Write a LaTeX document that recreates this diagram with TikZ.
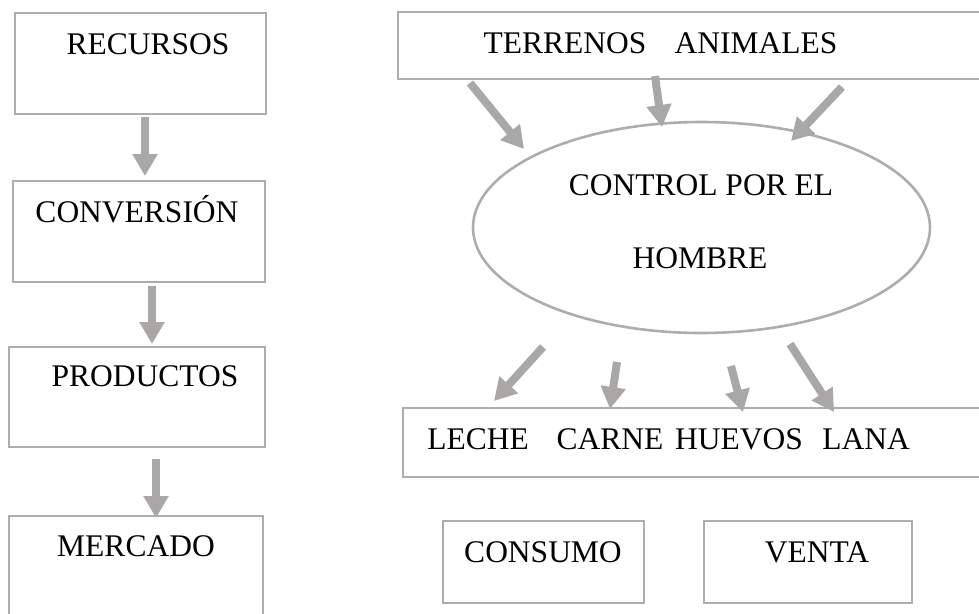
\documentclass[tikz,border=0pt]{standalone}
\usepackage{fontspec}
\setmainfont{Liberation Serif}
\usetikzlibrary{arrows.meta,shapes.geometric}
\definecolor{boxgray}{HTML}{ADADAD}
\definecolor{arrgray}{HTML}{AAA7A7}
\tikzset{
  boxnode/.style={draw=boxgray, line width=2.6pt, rectangle, inner sep=0pt, fill=none},
  lbl/.style={anchor=base, inner sep=0pt, font=\fontsize{31.5}{38}\selectfont, text=black},
  flow/.style={draw=arrgray, line width=8pt, -{Triangle[width=24pt,length=22pt]}}
}
\begin{document}
\begin{tikzpicture}[x=1pt,y=-1pt]
\useasboundingbox (0,0) rectangle (979,613);
\clip (0,0) rectangle (979,613);
\fill[white] (0,0) rectangle (979,613);
% left column boxes
\node[boxnode, minimum width=251pt, minimum height=101pt] (rec) at (140.5,63.5) {};
\node[boxnode, minimum width=252pt, minimum height=101pt] (conv) at (139,231.5) {};
\node[boxnode, minimum width=256pt, minimum height=100pt] (prod) at (137,397) {};
\node[boxnode, minimum width=254pt, minimum height=110pt] (merc) at (136,571) {};
\node[lbl] (trec) at (148,54) {RECURSOS};
\node[lbl] (tconv) at (137,222) {CONVERSIÓN};
\node[lbl] (tprod) at (145,386) {PRODUCTOS};
\node[lbl] (tmerc) at (136,556) {MERCADO};
% right side
\node[boxnode, minimum width=600pt, minimum height=67pt] (top) at (698,45.5) {};
\node[lbl] (tterr) at (565,53) {TERRENOS};
\node[lbl] (tanim) at (756,53) {ANIMALES};
\node[draw=boxgray, line width=2.6pt, ellipse, minimum width=457pt, minimum height=211pt, inner sep=0pt] (ctrl) at (701.5,227.5) {};
\node[lbl] (tctrl1) at (701,195) {CONTROL POR EL};
\node[lbl] (tctrl2) at (700,268) {HOMBRE};
\node[boxnode, minimum width=595pt, minimum height=69pt] (out) at (700.5,442.5) {};
\node[lbl] (tleche) at (478,449) {LECHE};
\node[lbl] (tcarne) at (610,449) {CARNE};
\node[lbl] (thuevos) at (739,449) {HUEVOS};
\node[lbl] (tlana) at (866,449) {LANA};
\node[boxnode, minimum width=201pt, minimum height=82pt] (cons) at (543.5,562) {};
\node[boxnode, minimum width=208pt, minimum height=82pt] (vent) at (808,562) {};
\node[lbl] (tcons) at (543,562) {CONSUMO};
\node[lbl] (tvent) at (817,562) {VENTA};
% arrow end coordinates
\coordinate (l1s) at (145,117); \coordinate (l1e) at (145,176);
\coordinate (l2s) at (152,286); \coordinate (l2e) at (152,344);
\coordinate (l3s) at (156,459); \coordinate (l3e) at (156,518);
\coordinate (tas) at (470,83);  \coordinate (tae) at (524,149);
\coordinate (tbs) at (655,76);  \coordinate (tbe) at (662,127);
\coordinate (tcs) at (842,87);  \coordinate (tce) at (791,141);
\coordinate (bds) at (543,347); \coordinate (bde) at (494,401);
\coordinate (bes) at (617,362); \coordinate (bee) at (610,409);
\coordinate (bfs) at (731,366); \coordinate (bfe) at (743,412);
\coordinate (bgs) at (790,344); \coordinate (bge) at (834,412);
\draw[flow] (l1s) -- (l1e);
\draw[flow] (l2s) -- (l2e);
\draw[flow] (l3s) -- (l3e);
\draw[flow] (tas) -- (tae);
\draw[flow] (tbs) -- (tbe);
\draw[flow] (tcs) -- (tce);
\draw[flow] (bds) -- (bde);
\draw[flow] (bes) -- (bee);
\draw[flow] (bfs) -- (bfe);
\draw[flow] (bgs) -- (bge);
\end{tikzpicture}
\end{document}
